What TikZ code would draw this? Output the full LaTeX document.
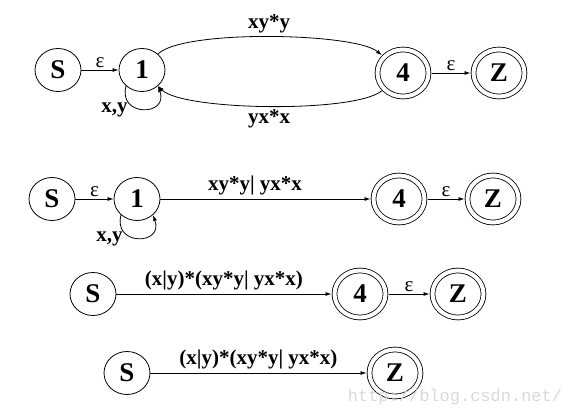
\documentclass[tikz,border=0pt]{standalone}
\usepackage{fontspec}
\setmainfont{Liberation Serif}
\setmonofont{Liberation Mono}
\usetikzlibrary{arrows.meta,shapes.geometric}

\begin{document}
\begin{tikzpicture}[x=1pt, y=1pt,
  every node/.style={font=\fontsize{21}{24}\selectfont\bfseries},
  state/.style={ellipse, draw, line width=0.8pt, minimum width=46pt, minimum height=43pt,
    inner sep=0pt, font=\fontsize{27}{30}\selectfont\bfseries},
  accept/.style={state, double, double distance=4pt, minimum width=51pt, minimum height=47pt,
    outer sep=3pt},
  trans/.style={-{Latex[length=6pt,width=4pt]}, line width=0.8pt},
  eps/.style={font=\fontsize{21}{24}\selectfont, above, inner sep=2pt}]

  \useasboundingbox (0,0) rectangle (571,-417);

  % === Row 1: S, 1, 4, Z with two arcs ===
  \begin{scope}[shift={(0,-70)}]
    \node[state] (s1) at (58,0) {S};
    \node[state] (a1) at (142,0) {1};
    \node[accept] (f1) at (403,-3) {4};
    \node[accept] (z1) at (499,-3) {Z};

    \draw[trans] (s1) -- node[eps] (e1) {ε} (a1);
    % arcs between 1 and 4
    \draw[trans] (a1) to[out=45, in=140, looseness=0.4] node[above] (l1) {xy*y} (f1);
    \draw[trans] (f1) to[out=-140, in=-45, looseness=0.4] node[below] (m1) {yx*x} (a1);
    % self loop
    \draw[trans] (a1.-135) to[out=-105, in=-70, looseness=2.6]
      node[pos=0.3, left, yshift=-4pt] (k1) {x,y} (a1.-45);
    \draw[trans] (f1) -- node[eps] (g1) {ε} (z1);
  \end{scope}

  % === Row 2: arcs merged into one edge ===
  \begin{scope}[shift={(0,-199)}]
    \node[state] (s2) at (52,0) {S};
    \node[state] (a2) at (137,0) {1};
    \node[accept] (f2) at (399,0) {4};
    \node[accept] (z2) at (493,0) {Z};

    \draw[trans] (s2) -- node[eps] (e2) {ε} (a2);
    \draw[trans] (a2) -- node[above, pos=0.45] (l2) {xy*y| yx*x} (f2);
    % self loop
    \draw[trans] (a2.-135) to[out=-105, in=-70, looseness=2.6]
      node[pos=0.3, left, yshift=-4pt] (k2) {x,y} (a2.-45);
    \draw[trans] (f2) -- node[eps] (g2) {ε} (z2);
  \end{scope}

  % === Row 3: loop on 1 removed ===
  \begin{scope}[shift={(0,-294)}]
    \node[state] (s3) at (93,0) {S};
    \node[accept] (f3) at (360,0) {4};
    \node[accept] (z3) at (458,0) {Z};

    \draw[trans] (s3) -- node[above] (l3) {(x|y)*(xy*y| yx*x)} (f3);
    \draw[trans] (f3) -- node[eps] (g3) {ε} (z3);
  \end{scope}

  % === Row 4: single edge ===
  \begin{scope}[shift={(0,-373)}]
    \node[state] (s4) at (127,0) {S};
    \node[accept] (z4) at (395,0) {Z};

    \draw[trans] (s4) -- node[above] (l4) {(x|y)*(xy*y| yx*x)} (z4);
  \end{scope}

  % watermark
  \node[font=\ttfamily\fontsize{17}{20}\selectfont, text=gray!30] (wm) at (455,-397)
    {http://blog.csdn.net/};

\end{tikzpicture}
\end{document}
